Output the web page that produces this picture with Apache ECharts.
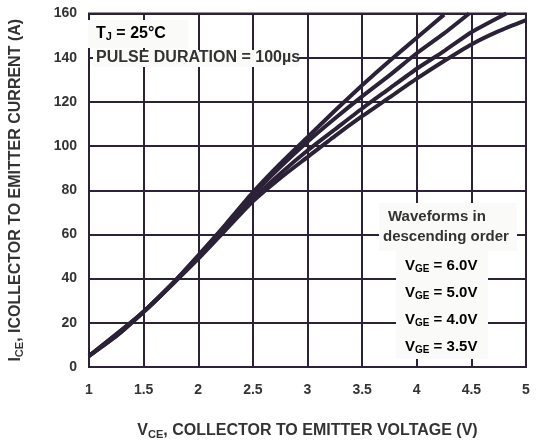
<!DOCTYPE html>
<html>
<head>
<meta charset="utf-8">
<script src="https://cdn.jsdelivr.net/npm/echarts@6/dist/echarts.min.js"></script>
<style>
  html, body { margin: 0; padding: 0; background: #fff; }
  #chart { width: 536px; height: 445px; }
</style>
</head>
<body>
<div id="chart"></div>
<script>
// IGBT 输出特性 - 各 VGE 下的 ICE-VCE 曲线
const xTicks = [1, 1.5, 2, 2.5, 3, 3.5, 4, 4.5, 5];
const yTicks = [0, 20, 40, 60, 80, 100, 120, 140, 160];

const vce60 = [1, 1.25, 1.5, 1.75, 2, 2.25, 2.5, 2.75, 3, 3.25, 3.5, 3.75, 4, 4.25];
const ice60 = [5, 14, 25, 37, 50.5, 64.5, 79, 92, 104, 116, 127.5, 138.5, 149, 159.5];

const vce50 = [1, 1.25, 1.5, 1.75, 2, 2.25, 2.5, 2.75, 3, 3.25, 3.5, 3.75, 4, 4.25, 4.48];
const ice50 = [5, 14, 25, 37, 50, 64, 78, 90.5, 102, 112.5, 122.5, 132, 142, 151, 160];

const vce40 = [1, 1.5, 2, 2.25, 2.5, 2.75, 3, 3.25, 3.5, 3.75, 4, 4.25, 4.5, 4.82];
const ice40 = [5, 25, 49.5, 62.5, 76, 87.5, 98, 107.5, 117, 126, 135, 143, 151.5, 160];

const vce35 = [1, 1.5, 2, 2.25, 2.5, 2.75, 3, 3.25, 3.5, 3.75, 4, 4.25, 4.5, 4.75, 5];
const ice35 = [5, 25, 49, 62, 75, 85.5, 95, 104.5, 113.5, 122, 130.5, 138.5, 146, 152, 157];

const vgeLabels = ['6.0V', '5.0V', '4.0V', '3.5V'];

const INK = '#2b2238';
const TXT = '#333333';
const FONT = '"Liberation Sans", Arial, sans-serif';
const BOX = '#fafaf8';

function zip(xs, ys) {
  return xs.map((x, i) => [x, ys[i]]);
}

function curve(name, xs, ys) {
  return {
    name: name,
    type: 'line',
    smooth: 0.2,
    symbol: 'none',
    data: zip(xs, ys),
    lineStyle: { color: INK, width: 4 },
    z: 3
  };
}

function subRich(size) {
  return {
    a: { fontFamily: FONT, fontWeight: 'bold', fontSize: size, color: TXT },
    s: { fontFamily: FONT, fontWeight: 'bold', fontSize: Math.round(size * 0.68), color: TXT, padding: [Math.round(size * 0.45), 0, 0, 0] }
  };
}

function plainText(text, x, y, size) {
  return {
    type: 'text', x: x, y: y, z: 10,
    style: {
      text: text,
      fontFamily: FONT, fontWeight: 'bold', fontSize: size, fill: TXT,
      verticalAlign: 'middle'
    }
  };
}

function subText(main, sub, rest, x, y, size) {
  return {
    type: 'text', x: x, y: y, z: 10,
    style: {
      text: '{a|' + main + '}{s|' + sub + '}{a|' + rest + '}',
      rich: subRich(size),
      verticalAlign: 'middle'
    }
  };
}

function box(x, y, w, h) {
  return {
    type: 'rect', z: 9,
    shape: { x: x, y: y, width: w, height: h },
    style: { fill: BOX }
  };
}

const chart = echarts.init(document.getElementById('chart'), null, { renderer: 'canvas' });

chart.setOption({
  backgroundColor: '#fff',
  animation: false,
  grid: { left: 86, right: 10, top: 13.5, bottom: 77, show: true, borderColor: INK, borderWidth: 2 },
  xAxis: {
    type: 'value',
    min: xTicks[0],
    max: xTicks[xTicks.length - 1],
    interval: 0.5,
    name: '{a|V}{s|CE}{a|, COLLECTOR TO EMITTER VOLTAGE (V)}',
    nameLocation: 'middle',
    nameGap: 55,
    nameTextStyle: { rich: subRich(16) },
    axisLine: { show: false },
    axisTick: { show: false },
    axisLabel: { color: TXT, fontFamily: FONT, fontWeight: 'bold', fontSize: 14, margin: 16 },
    splitLine: { lineStyle: { color: INK, width: 2 } }
  },
  yAxis: {
    type: 'value',
    min: yTicks[0],
    max: yTicks[yTicks.length - 1],
    interval: 20,
    name: '{a|I}{s|CE}{a|, ICOLLECTOR TO EMITTER CURRENT (A)}',
    nameLocation: 'middle',
    nameGap: 64,
    nameTextStyle: { rich: subRich(16) },
    axisLine: { show: false },
    axisTick: { show: false },
    axisLabel: { color: TXT, fontFamily: FONT, fontWeight: 'bold', fontSize: 14, margin: 12 },
    splitLine: { lineStyle: { color: INK, width: 2 } }
  },
  series: [
    curve('VGE = ' + vgeLabels[0], vce60, ice60),
    curve('VGE = ' + vgeLabels[1], vce50, ice50),
    curve('VGE = ' + vgeLabels[2], vce40, ice40),
    curve('VGE = ' + vgeLabels[3], vce35, ice35)
  ],
  graphic: [
    box(88, 20, 100, 28),
    box(93, 50, 206, 17),
    subText('T', 'J', ' = 25°C', 96, 33.5, 16),
    plainText('PULSE DURATION = 100µs', 96, 58, 16),

    box(379, 203, 138, 48),
    box(396, 251, 92, 108),
    plainText('Waveforms in', 388, 216.5, 15),
    plainText('descending order', 383, 237, 15),
    subText('V', 'GE', ' = ' + vgeLabels[0], 405, 265.5, 15),
    subText('V', 'GE', ' = ' + vgeLabels[1], 405, 292.5, 15),
    subText('V', 'GE', ' = ' + vgeLabels[2], 405, 319.5, 15),
    subText('V', 'GE', ' = ' + vgeLabels[3], 405, 347, 15)
  ]
});
</script>
</body>
</html>
